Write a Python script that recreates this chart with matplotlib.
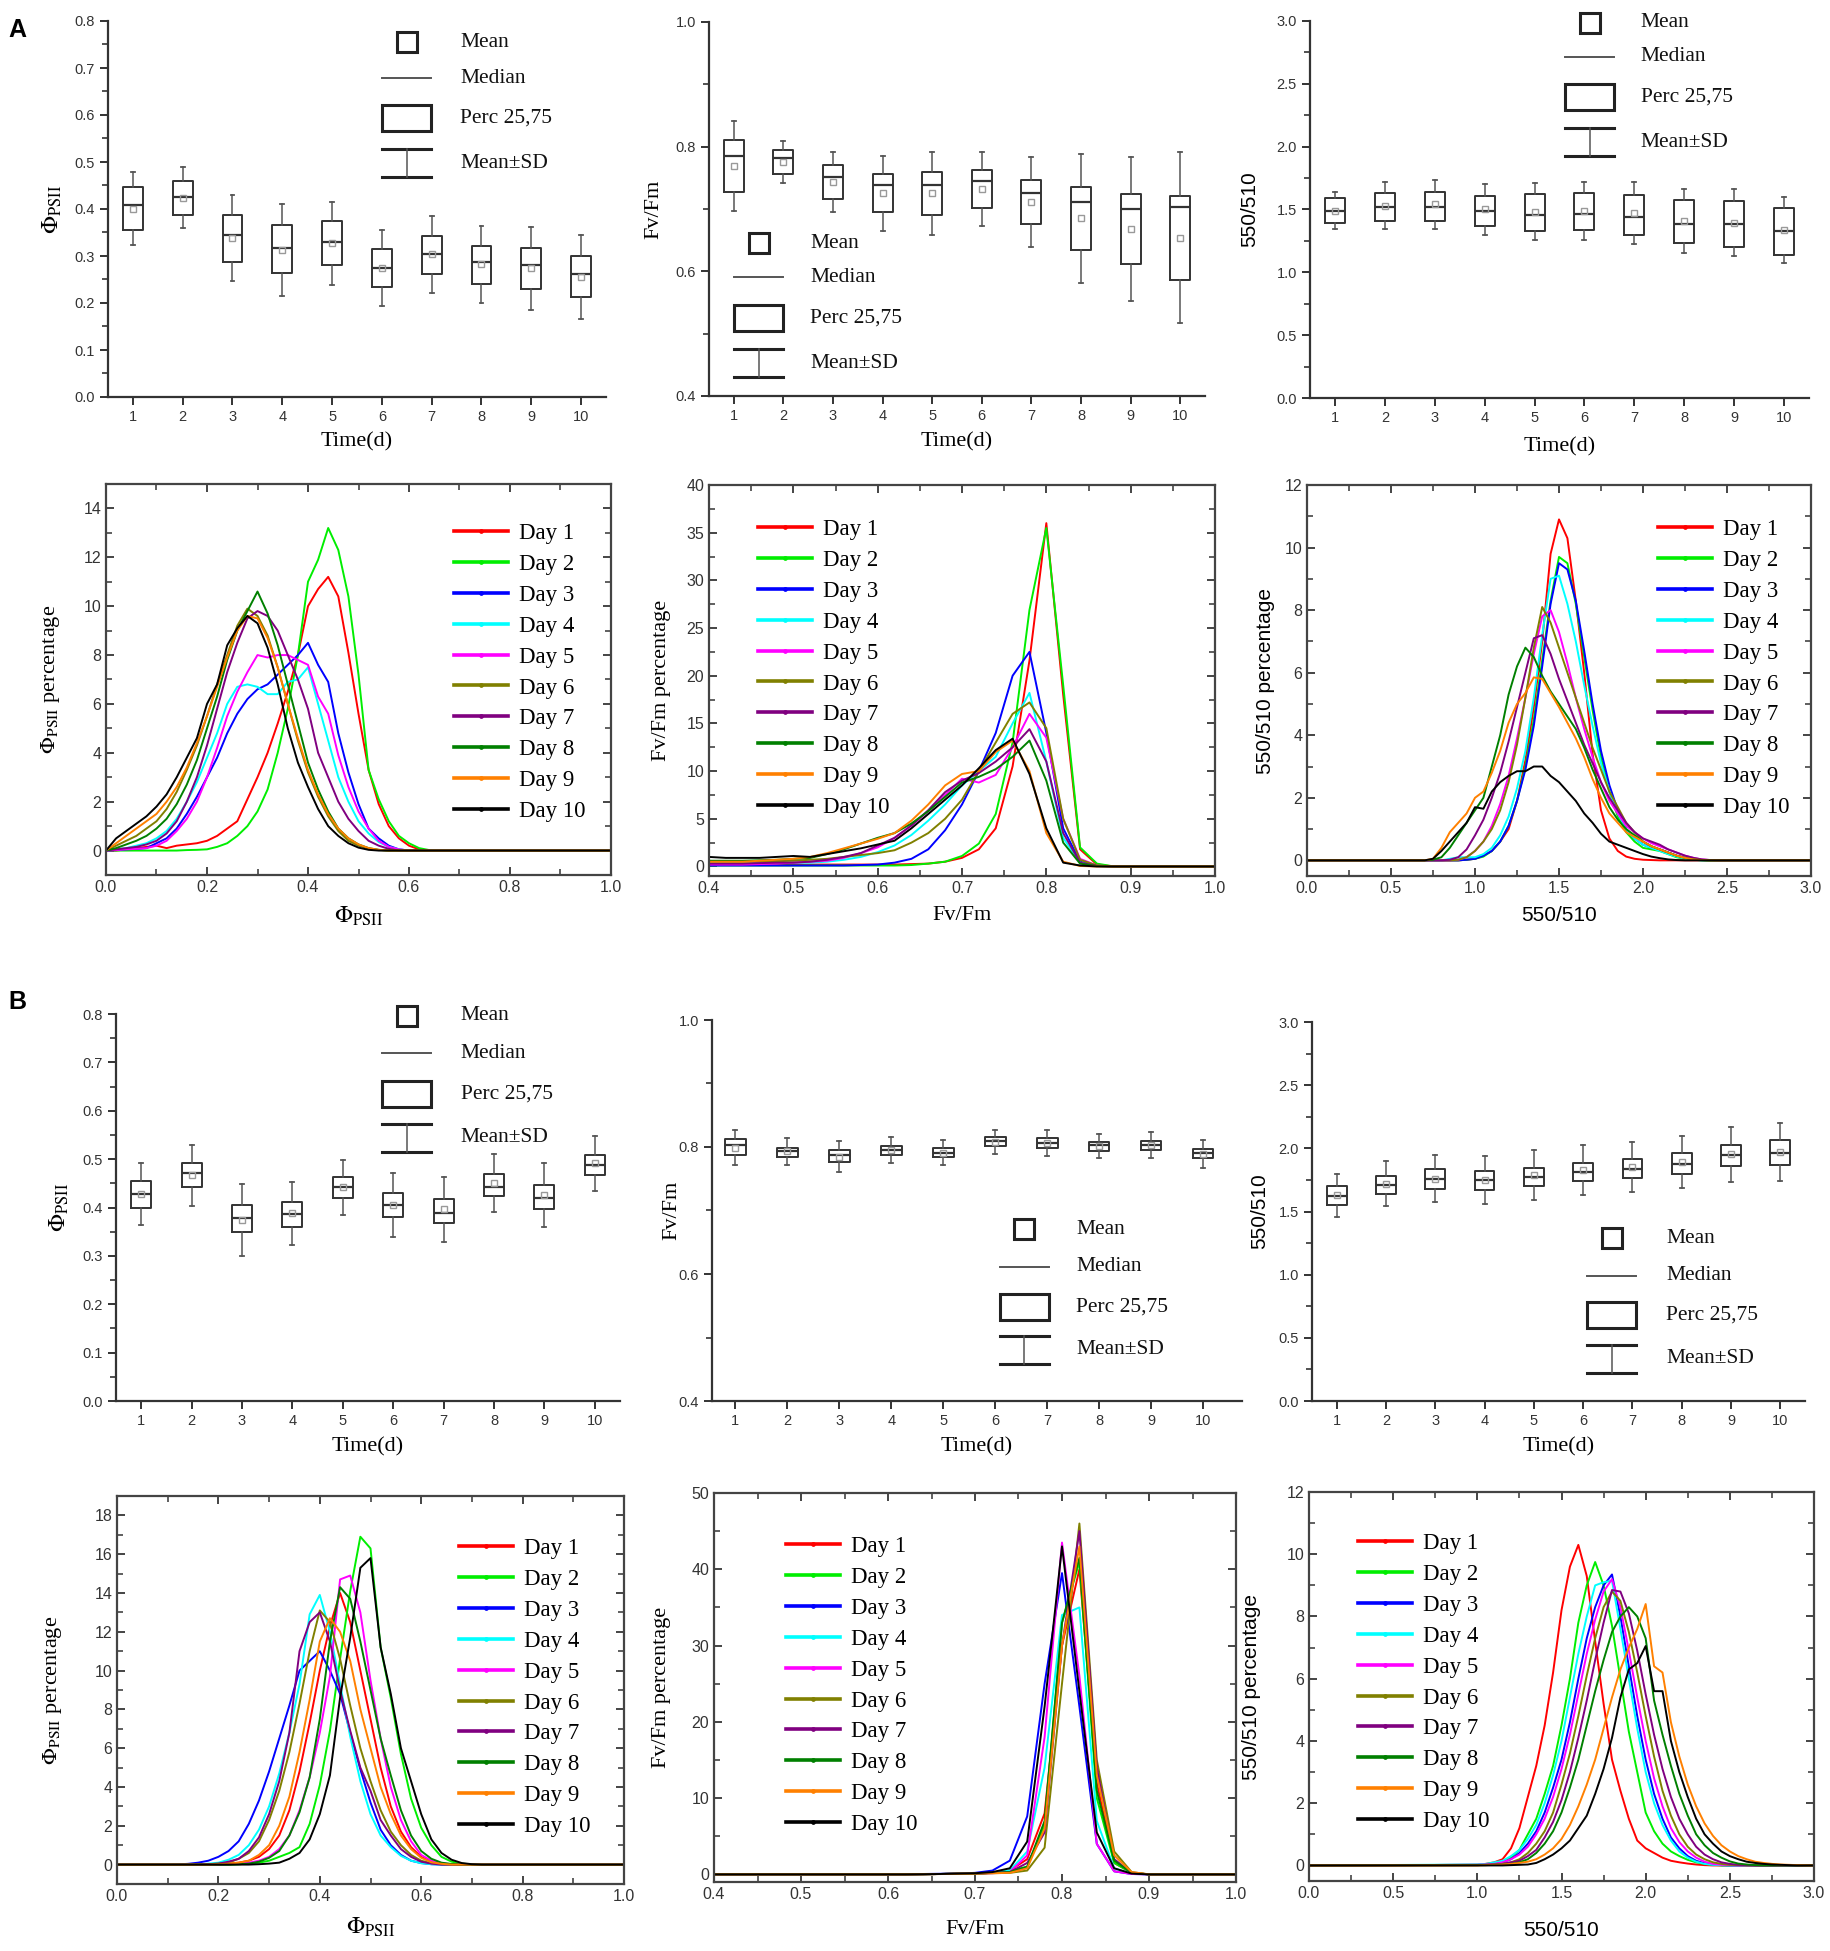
import numpy as np
import matplotlib
matplotlib.use("Agg")
import matplotlib.pyplot as plt
from matplotlib.patches import Rectangle
from matplotlib.lines import Line2D
from matplotlib.ticker import MultipleLocator, FormatStrFormatter

W, H = 1831, 1951
plt.rcParams['font.family'] = ['Liberation Sans', 'DejaVu Sans']
plt.rcParams['mathtext.fontset'] = 'stix'
SERIF = ['Liberation Serif', 'DejaVu Serif']

# ---------------- data ----------------
days = [1, 2, 3, 4, 5, 6, 7, 8, 9, 10]
day_labels = ['Day 1', 'Day 2', 'Day 3', 'Day 4', 'Day 5',
              'Day 6', 'Day 7', 'Day 8', 'Day 9', 'Day 10']
day_colors = ['#ff0000', '#00ee00', '#0000ff', '#00ffff', '#ff00ff',
              '#808000', '#800080', '#008000', '#ff8000', '#000000']
box_legend_labels = ['Mean', 'Median', 'Perc 25,75', 'Mean±SD']

# box statistics (A)
A_phi_mean = [0.401, 0.424, 0.338, 0.313, 0.327, 0.275, 0.304, 0.282, 0.274, 0.256]
A_phi_sd = [0.078, 0.065, 0.092, 0.098, 0.088, 0.081, 0.082, 0.082, 0.088, 0.089]
A_phi_med = [0.409, 0.426, 0.345, 0.317, 0.329, 0.275, 0.304, 0.287, 0.280, 0.261]
A_phi_q1 = [0.355, 0.387, 0.288, 0.263, 0.281, 0.235, 0.262, 0.241, 0.230, 0.212]
A_phi_q3 = [0.447, 0.460, 0.387, 0.365, 0.375, 0.315, 0.343, 0.322, 0.316, 0.300]

A_fv_mean = [0.769, 0.775, 0.743, 0.725, 0.725, 0.732, 0.711, 0.685, 0.668, 0.654]
A_fv_sd = [0.072, 0.034, 0.048, 0.060, 0.066, 0.060, 0.072, 0.103, 0.115, 0.137]
A_fv_med = [0.785, 0.782, 0.752, 0.738, 0.739, 0.745, 0.726, 0.712, 0.700, 0.703]
A_fv_q1 = [0.727, 0.756, 0.716, 0.695, 0.690, 0.702, 0.676, 0.635, 0.611, 0.586]
A_fv_q3 = [0.811, 0.795, 0.770, 0.756, 0.759, 0.763, 0.747, 0.736, 0.724, 0.721]

A_ratio_mean = [1.491, 1.530, 1.541, 1.501, 1.483, 1.488, 1.475, 1.411, 1.395, 1.337]
A_ratio_sd = [0.150, 0.185, 0.195, 0.200, 0.225, 0.228, 0.246, 0.254, 0.267, 0.261]
A_ratio_med = [1.491, 1.517, 1.517, 1.488, 1.456, 1.464, 1.443, 1.385, 1.385, 1.332]
A_ratio_q1 = [1.390, 1.411, 1.411, 1.371, 1.332, 1.337, 1.297, 1.236, 1.199, 1.138]
A_ratio_q3 = [1.589, 1.634, 1.642, 1.610, 1.620, 1.628, 1.615, 1.575, 1.567, 1.514]

# box statistics (B)
B_phi_mean = [0.428, 0.467, 0.374, 0.388, 0.442, 0.405, 0.396, 0.450, 0.426, 0.491]
B_phi_sd = [0.064, 0.063, 0.074, 0.065, 0.057, 0.066, 0.068, 0.060, 0.066, 0.057]
B_phi_med = [0.428, 0.471, 0.378, 0.386, 0.442, 0.405, 0.389, 0.443, 0.420, 0.488]
B_phi_q1 = [0.400, 0.443, 0.349, 0.360, 0.420, 0.381, 0.367, 0.424, 0.397, 0.467]
B_phi_q3 = [0.455, 0.493, 0.406, 0.411, 0.464, 0.431, 0.418, 0.469, 0.447, 0.509]

B_fv_mean = [0.799, 0.793, 0.785, 0.795, 0.791, 0.808, 0.806, 0.801, 0.803, 0.789]
B_fv_sd = [0.027, 0.021, 0.024, 0.020, 0.020, 0.019, 0.020, 0.019, 0.020, 0.022]
B_fv_med = [0.803, 0.793, 0.787, 0.795, 0.791, 0.810, 0.807, 0.803, 0.803, 0.790]
B_fv_q1 = [0.788, 0.785, 0.776, 0.787, 0.784, 0.802, 0.799, 0.794, 0.795, 0.783]
B_fv_q3 = [0.812, 0.799, 0.795, 0.802, 0.798, 0.815, 0.814, 0.808, 0.809, 0.797]

B_ratio_mean = [1.628, 1.720, 1.760, 1.747, 1.786, 1.826, 1.852, 1.892, 1.953, 1.971]
B_ratio_sd = [0.170, 0.178, 0.187, 0.190, 0.198, 0.198, 0.195, 0.205, 0.218, 0.230]
B_ratio_med = [1.620, 1.707, 1.755, 1.747, 1.773, 1.813, 1.839, 1.879, 1.945, 1.963]
B_ratio_q1 = [1.549, 1.636, 1.681, 1.668, 1.699, 1.739, 1.765, 1.799, 1.858, 1.871]
B_ratio_q3 = [1.699, 1.781, 1.834, 1.818, 1.847, 1.887, 1.913, 1.966, 2.024, 2.069]

# distributions (A)
A_phi_x = list(np.round(np.arange(0.0, 0.661, 0.02), 2)) + [1.0]
A_phi_pct = [
    [0, 0, 0.05, 0.1, 0.15, 0.2, 0.1, 0.2, 0.25, 0.3, 0.4, 0.6, 0.9, 1.2, 2.1, 3.0, 4.0, 5.2, 6.5, 8.0, 10.0, 10.7, 11.2, 10.4, 8.1, 5.6, 3.3, 1.9, 1.0, 0.5, 0.2, 0.05, 0, 0, 0],
    [0, 0, 0, 0, 0, 0, 0, 0, 0.02, 0.03, 0.05, 0.15, 0.3, 0.6, 1.0, 1.6, 2.5, 4.0, 5.8, 8.0, 11.0, 11.9, 13.2, 12.3, 10.4, 7.2, 3.3, 2.1, 1.2, 0.6, 0.3, 0.1, 0.02, 0, 0],
    [0, 0.02, 0.05, 0.07, 0.1, 0.3, 0.5, 0.9, 1.5, 2.2, 3.0, 3.8, 4.8, 5.6, 6.2, 6.6, 6.8, 7.2, 7.6, 8.0, 8.5, 7.6, 6.9, 4.8, 3.2, 1.9, 0.9, 0.5, 0.2, 0.05, 0, 0, 0, 0, 0],
    [0, 0.05, 0.1, 0.2, 0.3, 0.5, 0.8, 1.3, 2.0, 2.8, 3.8, 4.8, 6.0, 6.7, 6.8, 6.7, 6.4, 6.4, 6.9, 7.0, 7.5, 6.0, 4.5, 3.0, 2.0, 1.2, 0.7, 0.35, 0.15, 0.05, 0, 0, 0, 0, 0],
    [0, 0.02, 0.05, 0.07, 0.1, 0.2, 0.4, 0.8, 1.3, 2.0, 3.0, 4.2, 5.5, 6.5, 7.3, 8.0, 7.9, 8.0, 8.0, 7.8, 7.6, 6.3, 5.6, 3.9, 2.6, 1.6, 0.9, 0.4, 0.15, 0.05, 0, 0, 0, 0, 0],
    [0, 0.2, 0.4, 0.6, 0.9, 1.2, 1.7, 2.4, 3.3, 4.3, 5.5, 6.8, 8.0, 9.2, 9.9, 9.6, 8.8, 7.5, 6.0, 4.5, 3.2, 2.2, 1.4, 0.8, 0.4, 0.2, 0.08, 0.02, 0, 0, 0, 0, 0, 0, 0],
    [0, 0.05, 0.1, 0.15, 0.25, 0.4, 0.7, 1.2, 2.0, 3.0, 4.3, 5.8, 7.3, 8.5, 9.5, 9.8, 9.6, 9.0, 8.0, 7.0, 5.8, 4.0, 3.0, 2.0, 1.3, 0.8, 0.4, 0.2, 0.07, 0, 0, 0, 0, 0, 0],
    [0, 0.1, 0.25, 0.4, 0.6, 0.9, 1.3, 1.9, 2.7, 3.7, 5.0, 6.3, 7.8, 9.0, 9.8, 10.6, 9.7, 8.4, 6.8, 5.2, 3.6, 2.5, 1.6, 0.9, 0.5, 0.25, 0.1, 0.03, 0, 0, 0, 0, 0, 0, 0],
    [0, 0.3, 0.6, 0.9, 1.2, 1.5, 2.0, 2.6, 3.4, 4.4, 5.5, 6.7, 7.9, 9.0, 9.6, 9.5, 8.7, 7.5, 6.0, 4.6, 3.3, 2.3, 1.5, 0.9, 0.5, 0.25, 0.1, 0.03, 0, 0, 0, 0, 0, 0, 0],
    [0, 0.5, 0.8, 1.1, 1.4, 1.8, 2.3, 3.0, 3.8, 4.6, 6.0, 6.8, 8.4, 9.1, 9.6, 9.3, 8.3, 6.8, 5.0, 3.6, 2.6, 1.7, 1.0, 0.6, 0.3, 0.12, 0.03, 0, 0, 0, 0, 0, 0, 0, 0],
]

A_fv_x = list(np.round(np.arange(0.40, 0.881, 0.02), 2)) + [1.0]
A_fv_pct = [
    [0.2, 0.2, 0.2, 0.2, 0.2, 0.2, 0.2, 0.2, 0.2, 0.2, 0.2, 0.2, 0.25, 0.3, 0.5, 0.9, 1.8, 4.0, 10.5, 21.6, 36.0, 18.0, 1.8, 0.2, 0, 0],
    [0.1, 0.1, 0.1, 0.1, 0.1, 0.1, 0.1, 0.1, 0.1, 0.1, 0.1, 0.1, 0.15, 0.3, 0.5, 1.1, 2.4, 5.5, 13.0, 26.9, 35.5, 19.0, 2.0, 0.3, 0, 0],
    [0.1, 0.1, 0.1, 0.1, 0.1, 0.1, 0.1, 0.1, 0.1, 0.15, 0.2, 0.4, 0.8, 1.8, 3.8, 6.5, 10.0, 14.0, 20.0, 22.5, 14.0, 4.0, 0.5, 0.05, 0, 0],
    [0.3, 0.3, 0.3, 0.35, 0.4, 0.4, 0.4, 0.5, 0.7, 1.0, 1.5, 2.2, 3.3, 4.8, 6.5, 8.5, 10.0, 11.5, 15.0, 18.2, 11.0, 3.0, 0.4, 0.05, 0, 0],
    [0.2, 0.2, 0.2, 0.25, 0.3, 0.4, 0.5, 0.6, 0.9, 1.4, 2.0, 3.0, 4.3, 5.8, 7.5, 9.2, 8.8, 9.6, 12.5, 16.0, 13.5, 5.0, 0.8, 0.1, 0, 0],
    [0.5, 0.5, 0.5, 0.5, 0.55, 0.6, 0.7, 0.8, 1.0, 1.2, 1.4, 1.7, 2.5, 3.5, 5.0, 7.0, 10.0, 13.0, 16.0, 17.2, 14.5, 5.0, 0.7, 0.1, 0, 0],
    [0.3, 0.3, 0.3, 0.35, 0.4, 0.4, 0.5, 0.7, 1.0, 1.4, 2.2, 3.0, 4.3, 5.9, 7.8, 9.0, 9.8, 11.0, 12.5, 14.4, 11.0, 3.5, 0.4, 0.05, 0, 0],
    [0.6, 0.6, 0.6, 0.65, 0.7, 0.8, 0.9, 1.3, 1.8, 2.4, 3.0, 3.5, 4.5, 5.8, 7.3, 8.8, 9.4, 10.2, 11.5, 13.2, 9.0, 2.5, 0.3, 0.05, 0, 0],
    [0.5, 0.5, 0.5, 0.6, 0.7, 0.8, 1.0, 1.4, 1.9, 2.4, 2.9, 3.5, 4.8, 6.5, 8.5, 9.7, 10.0, 12.0, 13.2, 10.0, 3.5, 0.5, 0.05, 0, 0, 0],
    [1.0, 0.9, 0.9, 0.9, 1.0, 1.1, 1.0, 1.3, 1.6, 1.9, 2.3, 2.7, 4.0, 5.5, 7.0, 8.5, 10.3, 12.2, 13.4, 9.7, 4.0, 0.4, 0.1, 0, 0, 0],
]

A_ratio_x = [0.0] + list(np.round(np.arange(0.70, 2.501, 0.05), 2)) + [3.0]
A_ratio_pct = [
    [0, 0, 0, 0, 0, 0, 0.02, 0.05, 0.15, 0.3, 0.6, 1.0, 1.9, 3.2, 4.9, 7.0, 9.8, 10.9, 10.3, 8.3, 6.0, 3.4, 1.6, 0.7, 0.3, 0.12, 0.05, 0.02, 0.01, 0, 0, 0, 0, 0, 0, 0, 0, 0, 0],
    [0, 0, 0, 0, 0, 0, 0.02, 0.05, 0.12, 0.3, 0.6, 1.1, 1.9, 3.0, 4.5, 6.4, 8.3, 9.7, 9.5, 8.2, 6.5, 4.8, 3.3, 2.2, 1.4, 0.9, 0.6, 0.4, 0.35, 0.3, 0.2, 0.1, 0.05, 0.02, 0, 0, 0, 0, 0],
    [0, 0, 0, 0, 0, 0, 0.02, 0.05, 0.15, 0.3, 0.6, 1.1, 1.9, 2.9, 4.3, 6.2, 8.2, 9.5, 9.3, 8.3, 6.7, 5.0, 3.5, 2.4, 1.6, 1.0, 0.7, 0.5, 0.4, 0.35, 0.25, 0.15, 0.08, 0.03, 0.01, 0, 0, 0, 0],
    [0, 0, 0, 0, 0.05, 0.1, 0.1, 0.1, 0.2, 0.4, 0.8, 1.4, 2.3, 3.5, 5.2, 7.2, 9.0, 9.1, 8.2, 7.0, 5.6, 4.3, 3.1, 2.2, 1.5, 1.0, 0.7, 0.5, 0.4, 0.3, 0.2, 0.12, 0.06, 0.02, 0, 0, 0, 0, 0],
    [0, 0, 0, 0, 0, 0.02, 0.1, 0.3, 0.6, 1.1, 1.8, 2.7, 3.9, 5.2, 6.6, 7.8, 8.0, 7.3, 6.3, 5.2, 4.2, 3.3, 2.5, 1.9, 1.5, 1.1, 0.9, 0.7, 0.55, 0.45, 0.35, 0.25, 0.15, 0.08, 0.03, 0.01, 0, 0, 0],
    [0, 0, 0, 0, 0, 0.02, 0.1, 0.3, 0.6, 1.0, 1.6, 2.5, 3.7, 5.2, 6.8, 8.1, 7.6, 6.8, 6.0, 5.2, 4.4, 3.6, 2.9, 2.2, 1.7, 1.2, 0.9, 0.6, 0.45, 0.35, 0.25, 0.15, 0.08, 0.03, 0.01, 0, 0, 0, 0],
    [0, 0, 0, 0, 0.02, 0.1, 0.35, 0.8, 1.3, 2.0, 2.8, 3.8, 4.9, 6.0, 7.1, 7.2, 6.6, 5.8, 5.1, 4.4, 3.7, 3.1, 2.5, 2.0, 1.6, 1.2, 0.9, 0.7, 0.6, 0.5, 0.35, 0.25, 0.15, 0.08, 0.03, 0.01, 0, 0, 0],
    [0, 0, 0.02, 0.1, 0.4, 0.8, 1.2, 1.6, 2.0, 3.0, 4.0, 5.3, 6.2, 6.8, 6.5, 5.9, 5.4, 5.0, 4.6, 4.2, 3.6, 2.9, 2.3, 1.7, 1.3, 1.0, 0.8, 0.6, 0.45, 0.35, 0.25, 0.15, 0.08, 0.03, 0.01, 0, 0, 0, 0],
    [0, 0, 0.05, 0.4, 0.9, 1.2, 1.5, 2.0, 2.2, 2.8, 3.5, 4.4, 5.0, 5.35, 5.85, 5.8, 5.35, 4.9, 4.4, 3.9, 3.3, 2.6, 2.0, 1.5, 1.2, 0.9, 0.75, 0.6, 0.45, 0.35, 0.25, 0.15, 0.08, 0.03, 0.01, 0, 0, 0, 0],
    [0, 0, 0.05, 0.3, 0.6, 0.9, 1.2, 1.7, 1.65, 2.2, 2.5, 2.7, 2.85, 2.85, 3.0, 3.0, 2.7, 2.5, 2.2, 1.9, 1.5, 1.2, 0.85, 0.6, 0.5, 0.4, 0.3, 0.2, 0.12, 0.07, 0.03, 0.01, 0, 0, 0, 0, 0, 0, 0],
]

# distributions (B)
B_phi_x = list(np.round(np.arange(0.0, 0.741, 0.02), 2)) + [1.0]
B_phi_pct = [
    [0, 0, 0, 0, 0, 0, 0, 0, 0, 0, 0, 0.05, 0.1, 0.2, 0.4, 0.8, 1.5, 2.8, 4.8, 7.3, 10.0, 12.3, 14.0, 12.5, 10.0, 7.5, 5.0, 3.0, 1.7, 0.9, 0.4, 0.15, 0.05, 0, 0, 0, 0, 0, 0],
    [0, 0, 0, 0, 0, 0, 0, 0, 0, 0, 0, 0, 0.02, 0.05, 0.1, 0.2, 0.4, 0.6, 0.9, 2.1, 4.1, 6.9, 10.6, 14.1, 16.9, 16.3, 11.2, 8.6, 5.7, 3.4, 1.9, 1.0, 0.4, 0.15, 0.05, 0.01, 0, 0, 0],
    [0, 0, 0, 0, 0, 0, 0.01, 0.04, 0.1, 0.2, 0.4, 0.7, 1.2, 2.1, 3.3, 4.8, 6.5, 8.2, 10.0, 10.5, 11.0, 10.0, 8.8, 6.8, 4.9, 3.2, 1.8, 1.0, 0.5, 0.2, 0.08, 0.02, 0, 0, 0, 0, 0, 0, 0],
    [0, 0, 0, 0, 0, 0, 0, 0, 0, 0.05, 0.1, 0.25, 0.5, 1.0, 1.8, 3.0, 4.7, 6.8, 9.3, 12.9, 13.9, 12.0, 9.3, 6.6, 4.3, 2.6, 1.5, 0.9, 0.45, 0.2, 0.07, 0.02, 0, 0, 0, 0, 0, 0, 0],
    [0, 0, 0, 0, 0, 0, 0, 0, 0, 0, 0, 0.02, 0.05, 0.1, 0.2, 0.4, 0.8, 1.5, 2.8, 4.5, 6.8, 9.7, 14.7, 14.9, 13.0, 9.5, 6.5, 4.0, 2.3, 1.2, 0.5, 0.2, 0.07, 0.02, 0, 0, 0, 0, 0],
    [0, 0, 0, 0, 0, 0, 0, 0, 0, 0.02, 0.05, 0.1, 0.3, 0.6, 1.2, 2.3, 3.8, 5.8, 8.3, 11.0, 13.1, 12.5, 10.6, 8.2, 6.0, 4.3, 2.8, 1.7, 1.0, 0.5, 0.2, 0.07, 0.02, 0, 0, 0, 0, 0, 0],
    [0, 0, 0, 0, 0, 0, 0, 0, 0, 0.02, 0.05, 0.15, 0.3, 0.7, 1.4, 2.6, 4.3, 6.8, 11.0, 12.5, 13.0, 11.5, 9.0, 6.9, 5.0, 3.8, 2.3, 1.5, 0.8, 0.4, 0.15, 0.05, 0, 0, 0, 0, 0, 0, 0],
    [0, 0, 0, 0, 0, 0, 0, 0, 0, 0, 0, 0, 0.02, 0.05, 0.15, 0.35, 0.7, 1.5, 2.7, 4.5, 7.5, 11.5, 14.3, 13.7, 11.5, 9.0, 6.5, 4.6, 2.8, 1.5, 0.7, 0.3, 0.1, 0.03, 0, 0, 0, 0, 0],
    [0, 0, 0, 0, 0, 0, 0, 0, 0, 0, 0.02, 0.05, 0.1, 0.2, 0.5, 1.0, 2.0, 3.5, 5.8, 8.5, 11.5, 12.7, 12.0, 10.5, 8.0, 6.0, 4.0, 2.6, 1.5, 0.8, 0.35, 0.12, 0.04, 0, 0, 0, 0, 0, 0],
    [0, 0, 0, 0, 0, 0, 0, 0, 0, 0, 0, 0, 0, 0, 0.02, 0.05, 0.1, 0.3, 0.6, 1.3, 2.6, 4.6, 8.6, 11.7, 15.3, 15.8, 11.2, 8.8, 6.0, 4.3, 2.6, 1.3, 0.6, 0.25, 0.08, 0.02, 0, 0, 0],
]

B_fv_x = list(np.round(np.arange(0.40, 0.901, 0.02), 2)) + [1.0]
B_fv_pct = [
    [0, 0, 0, 0, 0, 0, 0, 0, 0, 0, 0, 0, 0.02, 0.05, 0.1, 0.1, 0.2, 0.5, 2.0, 8.0, 30.0, 40.0, 12.0, 1.5, 0.2, 0, 0],
    [0, 0, 0, 0, 0, 0, 0, 0, 0, 0, 0, 0, 0.02, 0.05, 0.1, 0.1, 0.2, 0.5, 1.0, 6.5, 33.0, 41.0, 10.0, 1.5, 0.2, 0, 0],
    [0, 0, 0, 0, 0, 0, 0, 0, 0, 0, 0, 0, 0.05, 0.08, 0.1, 0.2, 0.5, 1.8, 7.6, 25.0, 39.5, 22.0, 4.0, 0.4, 0.05, 0, 0],
    [0, 0, 0, 0, 0, 0, 0, 0, 0, 0, 0, 0, 0.02, 0.05, 0.1, 0.1, 0.2, 0.5, 3.0, 14.0, 34.0, 35.0, 7.0, 0.8, 0.1, 0, 0],
    [0, 0, 0, 0, 0, 0, 0, 0, 0, 0, 0, 0, 0.02, 0.05, 0.1, 0.1, 0.15, 0.3, 2.5, 18.0, 43.5, 26.0, 4.0, 0.4, 0.05, 0, 0],
    [0, 0, 0, 0, 0, 0, 0, 0, 0, 0, 0, 0, 0.02, 0.05, 0.08, 0.1, 0.15, 0.2, 0.5, 3.5, 25.0, 46.0, 15.0, 3.0, 0.3, 0, 0],
    [0, 0, 0, 0, 0, 0, 0, 0, 0, 0, 0, 0, 0.02, 0.05, 0.1, 0.1, 0.2, 0.3, 1.5, 5.5, 30.0, 45.0, 14.0, 2.0, 0.2, 0, 0],
    [0, 0, 0, 0, 0, 0, 0, 0, 0, 0, 0, 0, 0.02, 0.05, 0.1, 0.1, 0.2, 0.3, 1.0, 7.0, 33.0, 41.5, 11.0, 1.8, 0.2, 0, 0],
    [0, 0, 0, 0, 0, 0, 0, 0, 0, 0, 0, 0, 0.02, 0.04, 0.08, 0.1, 0.15, 0.2, 0.8, 6.0, 30.0, 43.0, 13.0, 2.5, 0.3, 0, 0],
    [0, 0, 0, 0, 0, 0, 0, 0, 0, 0, 0, 0, 0.02, 0.05, 0.1, 0.15, 0.3, 0.8, 4.3, 22.0, 43.0, 24.0, 5.5, 0.8, 0.1, 0, 0],
]

B_ratio_x = [0.0] + list(np.round(np.arange(1.00, 2.901, 0.05), 2)) + [3.0]
B_ratio_pct = [
    [0, 0.02, 0.05, 0.1, 0.2, 0.55, 1.2, 2.2, 3.2, 4.5, 6.2, 8.2, 9.6, 10.3, 9.3, 7.2, 5.2, 3.4, 2.4, 1.5, 0.8, 0.55, 0.4, 0.25, 0.15, 0.1, 0.06, 0.03, 0.01, 0, 0, 0, 0, 0, 0, 0, 0, 0, 0, 0, 0],
    [0, 0.02, 0.03, 0.05, 0.1, 0.25, 0.5, 1.0, 1.5, 2.3, 3.2, 4.5, 6.0, 7.8, 9.0, 9.75, 9.0, 7.7, 6.0, 4.3, 3.0, 1.7, 1.1, 0.7, 0.45, 0.3, 0.18, 0.1, 0.05, 0.02, 0, 0, 0, 0, 0, 0, 0, 0, 0, 0, 0],
    [0, 0.02, 0.03, 0.05, 0.1, 0.2, 0.4, 0.7, 1.1, 1.7, 2.5, 3.4, 4.6, 6.0, 7.3, 8.3, 9.0, 9.35, 8.0, 6.4, 4.8, 3.4, 2.3, 1.5, 0.9, 0.55, 0.3, 0.15, 0.07, 0.03, 0.01, 0, 0, 0, 0, 0, 0, 0, 0, 0, 0],
    [0, 0.03, 0.05, 0.1, 0.15, 0.3, 0.5, 0.85, 1.3, 2.0, 2.9, 4.0, 5.4, 6.8, 8.0, 9.0, 9.1, 9.15, 7.6, 6.0, 4.4, 3.0, 2.0, 1.3, 0.8, 0.45, 0.25, 0.12, 0.05, 0.02, 0.01, 0, 0, 0, 0, 0, 0, 0, 0, 0, 0],
    [0, 0.02, 0.03, 0.05, 0.1, 0.2, 0.35, 0.6, 1.0, 1.5, 2.2, 3.1, 4.2, 5.5, 6.8, 7.9, 8.8, 9.2, 8.3, 6.9, 5.4, 4.0, 2.8, 1.9, 1.2, 0.75, 0.45, 0.25, 0.12, 0.05, 0.02, 0.01, 0, 0, 0, 0, 0, 0, 0, 0, 0],
    [0, 0.01, 0.02, 0.03, 0.05, 0.1, 0.2, 0.4, 0.7, 1.1, 1.7, 2.6, 3.6, 4.8, 6.1, 7.3, 8.3, 8.8, 8.5, 7.5, 6.2, 4.8, 3.5, 2.4, 1.6, 1.0, 0.6, 0.35, 0.2, 0.1, 0.05, 0.02, 0.01, 0, 0, 0, 0, 0, 0, 0, 0],
    [0, 0.01, 0.02, 0.03, 0.05, 0.1, 0.15, 0.3, 0.5, 0.9, 1.4, 2.1, 3.0, 4.1, 5.3, 6.6, 7.8, 8.85, 8.8, 8.1, 6.9, 5.5, 4.2, 3.1, 2.2, 1.5, 1.0, 0.6, 0.35, 0.2, 0.1, 0.05, 0.02, 0.01, 0, 0, 0, 0, 0, 0, 0],
    [0, 0.01, 0.01, 0.02, 0.03, 0.05, 0.1, 0.2, 0.4, 0.7, 1.1, 1.7, 2.5, 3.4, 4.5, 5.6, 6.6, 7.5, 8.0, 8.3, 8.0, 7.3, 5.3, 4.2, 3.2, 2.3, 1.6, 1.0, 0.65, 0.4, 0.25, 0.13, 0.06, 0.03, 0.01, 0, 0, 0, 0, 0, 0],
    [0, 0, 0.01, 0.02, 0.03, 0.05, 0.08, 0.12, 0.2, 0.35, 0.55, 0.85, 1.3, 1.9, 2.6, 3.4, 4.4, 5.4, 6.3, 7.0, 7.6, 8.4, 6.4, 6.2, 4.6, 3.5, 2.6, 1.9, 1.35, 0.95, 0.65, 0.45, 0.3, 0.2, 0.12, 0.08, 0.05, 0.03, 0.02, 0.01, 0],
    [0, 0, 0, 0, 0, 0.01, 0.02, 0.03, 0.08, 0.2, 0.35, 0.55, 0.8, 1.2, 1.6, 2.3, 3.1, 4.1, 5.4, 6.3, 6.5, 7.05, 5.6, 5.6, 4.0, 3.0, 2.2, 1.5, 1.0, 0.7, 0.45, 0.3, 0.2, 0.12, 0.08, 0.05, 0.03, 0.02, 0.01, 0, 0],
]

# ---------------- figure ----------------
fig = plt.figure(figsize=(W / 100, H / 100), dpi=100)


def add_ax(L, R, T, B):
    return fig.add_axes([L / W, 1 - B / H, (R - L) / W, (B - T) / H])


def box_panel(ax, mean, sd, med, q1, q3, ylim, major, minor, fmt, xlim=(0.5, 10.5)):
    stats = []
    for mu, s, m, a, b in zip(mean, sd, med, q1, q3):
        stats.append(dict(med=m, q1=a, q3=b, whislo=mu - s, whishi=mu + s, mean=mu, fliers=[]))
    ax.bxp(stats, positions=days, widths=0.4, showmeans=True, showfliers=False,
           capwidths=0.08, patch_artist=False,
           boxprops=dict(color='#333333', lw=1.4),
           medianprops=dict(color='#333333', lw=1.6),
           whiskerprops=dict(color='#555555', lw=1.1),
           capprops=dict(color='#555555', lw=1.3),
           meanprops=dict(marker='s', markerfacecolor='none', markeredgecolor='#999999',
                          markersize=4.5, markeredgewidth=1.0))
    ax.set_xlim(*xlim)
    ax.set_ylim(*ylim)
    ax.set_xticks(days)
    ax.set_xticklabels([str(d) for d in days])
    ax.yaxis.set_major_locator(MultipleLocator(major))
    ax.yaxis.set_minor_locator(MultipleLocator(minor))
    ax.yaxis.set_major_formatter(FormatStrFormatter(fmt))
    for sp in ['top', 'right']:
        ax.spines[sp].set_visible(False)
    for sp in ['left', 'bottom']:
        ax.spines[sp].set_linewidth(1.6)
        ax.spines[sp].set_color('#333333')
    ax.tick_params(which='both', direction='out', colors='#333333', labelsize=10.5,
                   labelcolor='#333333')
    ax.tick_params(which='major', length=6, width=1.4)
    ax.tick_params(which='minor', length=4, width=1.2)
    ax.tick_params(axis='x', which='minor', bottom=False)


def box_legend(ax, xs, xt, ys):
    pos = ax.get_position()
    wpx, hpx = pos.width * W, pos.height * H
    fx = lambda px: px / wpx
    fy = lambda px: px / hpx
    tr = ax.transAxes
    ax.add_patch(Rectangle((xs - fx(10), ys[0] - fy(10)), fx(20), fy(20), transform=tr,
                           fill=False, ec='#222222', lw=2.2, clip_on=False))
    ax.add_line(Line2D([xs - fx(24.5), xs + fx(24.5)], [ys[1], ys[1]], transform=tr,
                       color='#555555', lw=1.4, clip_on=False))
    ax.add_patch(Rectangle((xs - fx(24.5), ys[2] - fy(13)), fx(49), fy(26), transform=tr,
                           fill=False, ec='#222222', lw=2.2, clip_on=False))
    for dy in (-14, 14):
        ax.add_line(Line2D([xs - fx(24.5), xs + fx(24.5)], [ys[3] + fy(dy)] * 2, transform=tr,
                           color='#222222', lw=2.2, clip_on=False))
    ax.add_line(Line2D([xs, xs], [ys[3] - fy(14), ys[3] + fy(14)], transform=tr,
                       color='#555555', lw=1.1, clip_on=False))
    for lab, y in zip(box_legend_labels, ys):
        ax.text(xt, y, lab, transform=tr, ha='left', va='center', family=SERIF,
                fontsize=15.5, color='#111111', clip_on=False)


def dist_panel(ax, x, rows, xlim, ylim, xmaj, xmin, ymaj, ymin, xfmt):
    for r, c in zip(rows, day_colors):
        if len(r) != len(x):
            raise ValueError('length mismatch %d vs %d' % (len(r), len(x)))
        ax.plot(x, r, color=c, lw=1.4)
    ax.set_xlim(*xlim)
    ax.set_ylim(*ylim)
    ax.xaxis.set_major_locator(MultipleLocator(xmaj))
    ax.xaxis.set_minor_locator(MultipleLocator(xmin))
    ax.yaxis.set_major_locator(MultipleLocator(ymaj))
    ax.yaxis.set_minor_locator(MultipleLocator(ymin))
    ax.xaxis.set_major_formatter(FormatStrFormatter(xfmt))
    ax.yaxis.set_major_formatter(FormatStrFormatter('%d'))
    for sp in ax.spines.values():
        sp.set_linewidth(1.6)
        sp.set_color('#444444')
    ax.tick_params(which='both', direction='in', top=True, right=True,
                   colors='#444444', labelcolor='#333333', labelsize=11.5)
    ax.tick_params(which='major', length=6, width=1.4)
    ax.tick_params(which='minor', length=4, width=1.2)


def day_legend(ax, left_px, row1_px):
    handles = [Line2D([], [], color=c, lw=2.6, marker='o', markersize=2.4) for c in day_colors]
    ax.legend(handles, day_labels, loc='upper left',
              bbox_to_anchor=(left_px / W, 1 - (row1_px - 9) / H),
              bbox_transform=fig.transFigure, frameon=False,
              prop={'family': SERIF, 'size': 16.5}, handlelength=2.35,
              handletextpad=0.5, labelspacing=0.43, borderpad=0, borderaxespad=0,
              numpoints=1)


def xlab(ax, text, yfrac, **kw):
    ax.set_xlabel(text, va='center', **kw)
    ax.xaxis.set_label_coords(0.5, yfrac)


def ylab(ax, text, xfrac, **kw):
    ax.set_ylabel(text, va='center', **kw)
    ax.yaxis.set_label_coords(xfrac, 0.5)


PHI = r'$\Phi_{\rm PSII}$'

# ---------- A top row ----------
ax = add_ax(108, 606, 21, 397)
box_panel(ax, A_phi_mean, A_phi_sd, A_phi_med, A_phi_q1, A_phi_q3, (0, 0.8), 0.1, 0.05, '%.1f')
box_legend(ax, 0.60, 0.707, [0.944, 0.848, 0.742, 0.622])
xlab(ax, 'Time(d)', -0.12, family=SERIF, fontsize=16)
ylab(ax, PHI, -0.112, fontsize=17)

ax = add_ax(709, 1205, 22, 396)
box_panel(ax, A_fv_mean, A_fv_sd, A_fv_med, A_fv_q1, A_fv_q3, (0.4, 1.0), 0.2, 0.1, '%.1f')
box_legend(ax, 0.10, 0.204, [0.409, 0.318, 0.209, 0.088])
xlab(ax, 'Time(d)', -0.123, family=SERIF, fontsize=16)
ylab(ax, 'Fv/Fm', -0.111, family=SERIF, fontsize=16)

ax = add_ax(1310, 1809, 21, 398)
box_panel(ax, A_ratio_mean, A_ratio_sd, A_ratio_med, A_ratio_q1, A_ratio_q3, (0, 3.0), 0.5, 0.25, '%.1f')
box_legend(ax, 0.561, 0.663, [0.995, 0.905, 0.798, 0.679])
xlab(ax, 'Time(d)', -0.13, family=SERIF, fontsize=16)
ylab(ax, '550/510', -0.12, fontsize=15)

# ---------- A bottom row ----------
ax = add_ax(106, 611, 484, 875)
dist_panel(ax, A_phi_x, A_phi_pct, (0, 1.0), (-1, 15), 0.2, 0.1, 2, 1, '%.1f')
day_legend(ax, 454, 532)
xlab(ax, PHI, -0.107, fontsize=17)
ylab(ax, PHI + ' percentage', -0.109, family=SERIF, fontsize=16)

ax = add_ax(709, 1215, 485, 876)
dist_panel(ax, A_fv_x, A_fv_pct, (0.4, 1.0), (-1, 40), 0.1, 0.05, 5, 2.5, '%.1f')
day_legend(ax, 758, 528)
xlab(ax, 'Fv/Fm', -0.10, family=SERIF, fontsize=16)
ylab(ax, 'Fv/Fm percentage', -0.093, family=SERIF, fontsize=16)

ax = add_ax(1307, 1811, 485, 876)
dist_panel(ax, A_ratio_x, A_ratio_pct, (0, 3.0), (-0.5, 12), 0.5, 0.25, 2, 1, '%.1f')
day_legend(ax, 1658, 528)
xlab(ax, '550/510', -0.10, fontsize=15)
ylab(ax, '550/510 percentage', -0.083, fontsize=15)

# ---------- B top row ----------
ax = add_ax(116, 620, 1014, 1401)
box_panel(ax, B_phi_mean, B_phi_sd, B_phi_med, B_phi_q1, B_phi_q3, (0, 0.8), 0.1, 0.05, '%.1f')
box_legend(ax, 0.577, 0.684, [0.995, 0.899, 0.793, 0.680])
xlab(ax, 'Time(d)', -0.119, family=SERIF, fontsize=16)
ylab(ax, PHI, -0.113, fontsize=17)

ax = add_ax(712, 1242, 1020, 1401)
box_panel(ax, B_fv_mean, B_fv_sd, B_fv_med, B_fv_q1, B_fv_q3, (0.4, 1.0), 0.2, 0.1, '%.1f',
          xlim=(0.55, 10.75))
box_legend(ax, 0.589, 0.687, [0.451, 0.352, 0.247, 0.134])
xlab(ax, 'Time(d)', -0.12, family=SERIF, fontsize=16)
ylab(ax, 'Fv/Fm', -0.075, family=SERIF, fontsize=16)

ax = add_ax(1312, 1805, 1022, 1401)
box_panel(ax, B_ratio_mean, B_ratio_sd, B_ratio_med, B_ratio_q1, B_ratio_q3, (0, 3.0), 0.5, 0.25, '%.1f')
box_legend(ax, 0.608, 0.719, [0.430, 0.330, 0.227, 0.111])
xlab(ax, 'Time(d)', -0.12, family=SERIF, fontsize=16)
ylab(ax, '550/510', -0.107, fontsize=15)

# ---------- B bottom row ----------
ax = add_ax(117, 624, 1496, 1884)
dist_panel(ax, B_phi_x, B_phi_pct, (0, 1.0), (-1, 19), 0.2, 0.1, 2, 1, '%.1f')
day_legend(ax, 459, 1547)
xlab(ax, PHI, -0.111, fontsize=17)
ylab(ax, PHI + ' percentage', -0.128, family=SERIF, fontsize=16)

ax = add_ax(714, 1236, 1493, 1882)
dist_panel(ax, B_fv_x, B_fv_pct, (0.4, 1.0), (-1, 50), 0.1, 0.05, 10, 5, '%.1f')
day_legend(ax, 786, 1545)
xlab(ax, 'Fv/Fm', -0.123, family=SERIF, fontsize=16)
ylab(ax, 'Fv/Fm percentage', -0.10, family=SERIF, fontsize=16)

ax = add_ax(1309, 1814, 1492, 1881)
dist_panel(ax, B_ratio_x, B_ratio_pct, (0, 3.0), (-0.5, 12), 0.5, 0.25, 2, 1, '%.1f')
day_legend(ax, 1358, 1542)
xlab(ax, '550/510', -0.126, fontsize=15)
ylab(ax, '550/510 percentage', -0.113, fontsize=15)

# panel letters
fig.text(8 / W, 1 - 18 / H, 'A', fontsize=18, fontweight='bold', va='top', ha='left')
fig.text(8 / W, 1 - 990 / H, 'B', fontsize=18, fontweight='bold', va='top', ha='left')

fig.savefig('out.png', dpi=100)
